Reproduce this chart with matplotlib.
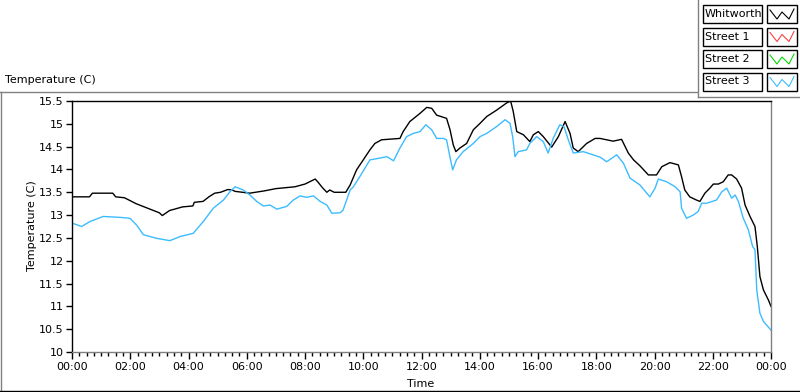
import matplotlib.pyplot as plt
from matplotlib.lines import Line2D
from matplotlib.patches import Rectangle
import numpy as np

W, H = 800, 392

# hours since midnight, temperature in C
whit_t = [0.0, 0.6, 0.7, 1.4, 1.5, 1.8, 2.2, 2.6, 3.0, 3.1, 3.35, 3.8, 4.15, 4.2, 4.5, 4.7,
          4.9, 5.1, 5.35, 5.5, 5.6, 6.1, 6.6, 7.0, 7.65, 8.0, 8.35, 8.45, 8.6, 8.75, 8.85,
          9.0, 9.4, 9.55, 9.77, 9.99, 10.23, 10.4, 10.63, 11.26, 11.37, 11.6, 11.95, 12.18,
          12.35, 12.52, 12.86, 12.98, 13.09, 13.18, 13.32, 13.55, 13.78, 14.01, 14.24, 14.58,
          14.93, 15.06, 15.15, 15.27, 15.5, 15.72, 15.84, 16.01, 16.18, 16.47, 16.7, 16.93,
          17.1, 17.21, 17.38, 17.67, 17.96, 18.13, 18.58, 18.87, 19.1, 19.28, 19.5, 19.79,
          20.07, 20.25, 20.53, 20.82, 20.93, 21.04, 21.21, 21.44, 21.56, 21.73, 21.9, 22.02,
          22.19, 22.36, 22.53, 22.65, 22.82, 22.99, 23.11, 23.28, 23.45, 23.53, 23.62, 23.74,
          23.91, 24.0]
whit_v = [13.4, 13.4, 13.48, 13.48, 13.4, 13.38, 13.25, 13.15, 13.05, 12.99, 13.1, 13.18,
          13.2, 13.28, 13.3, 13.4, 13.48, 13.5, 13.56, 13.55, 13.52, 13.48, 13.53, 13.58,
          13.62, 13.68, 13.79, 13.72, 13.6, 13.5, 13.55, 13.5, 13.5, 13.66, 13.99, 14.2,
          14.43, 14.57, 14.65, 14.68, 14.83, 15.05, 15.23, 15.36, 15.34, 15.19, 15.12, 14.87,
          14.54, 14.39, 14.47, 14.57, 14.87, 15.01, 15.16, 15.3, 15.46, 15.5, 15.27, 14.83,
          14.76, 14.61, 14.76, 14.83, 14.72, 14.49, 14.72, 15.05, 14.79, 14.47, 14.39, 14.57,
          14.68, 14.68, 14.62, 14.66, 14.36, 14.21, 14.08, 13.88, 13.88, 14.06, 14.15, 14.1,
          13.84, 13.55, 13.4, 13.33, 13.3, 13.48, 13.59, 13.68, 13.68, 13.73, 13.88, 13.88,
          13.79, 13.59, 13.22, 12.97, 12.75, 12.31, 11.65, 11.36, 11.14, 11.0]

st3_t = [0.02, 0.33, 0.62, 1.07, 1.65, 1.99, 2.22, 2.45, 2.91, 3.36, 3.71, 4.16, 4.51, 4.85,
         5.2, 5.42, 5.6, 5.88, 6.11, 6.34, 6.57, 6.8, 7.03, 7.37, 7.6, 7.83, 8.06, 8.29,
         8.52, 8.75, 8.92, 9.2, 9.3, 9.43, 9.55, 9.66, 9.89, 10.23, 10.58, 10.81, 11.04,
         11.26, 11.49, 11.72, 11.95, 12.15, 12.35, 12.52, 12.75, 12.86, 12.95, 13.07, 13.2,
         13.43, 13.78, 14.01, 14.24, 14.58, 14.87, 15.04, 15.13, 15.21, 15.32, 15.61, 15.72,
         15.95, 16.18, 16.35, 16.52, 16.75, 16.89, 17.04, 17.21, 17.56, 18.13, 18.36, 18.7,
         18.93, 19.16, 19.5, 19.84, 20.02, 20.13, 20.42, 20.71, 20.88, 20.93, 21.1, 21.33,
         21.5, 21.62, 21.79, 22.13, 22.31, 22.48, 22.65, 22.77, 22.88, 23.05, 23.22, 23.37,
         23.45, 23.51, 23.62, 23.74, 24.0]
st3_v = [12.82, 12.75, 12.86, 12.97, 12.95, 12.93, 12.78, 12.57, 12.49, 12.44, 12.53, 12.6,
         12.86, 13.15, 13.33, 13.51, 13.62, 13.55, 13.44, 13.3, 13.2, 13.22, 13.13, 13.19,
         13.33, 13.42, 13.39, 13.42, 13.3, 13.22, 13.04, 13.05, 13.1, 13.33, 13.55, 13.62,
         13.85, 14.21, 14.25, 14.28, 14.19, 14.47, 14.72, 14.79, 14.83, 14.98, 14.87, 14.68,
         14.68, 14.65, 14.36, 13.99, 14.21, 14.39, 14.57, 14.72, 14.79, 14.94, 15.09, 15.01,
         14.72, 14.28, 14.39, 14.43, 14.57, 14.72, 14.61, 14.36, 14.68, 14.98, 14.94, 14.65,
         14.36, 14.39, 14.27, 14.17, 14.32, 14.14, 13.81, 13.66, 13.4, 13.59, 13.79, 13.73,
         13.62, 13.51, 13.15, 12.93, 13.0, 13.08, 13.26, 13.26, 13.33, 13.51, 13.59, 13.37,
         13.44, 13.3, 12.93, 12.68, 12.31, 12.24, 11.36, 10.85, 10.67, 10.48]

names = ['Whitworth', 'Street 1', 'Street 2', 'Street 3']
colors = ['black', '#ff4040', '#00dd00', '#3cbcff']

y_ticks = np.arange(10, 15.51, 0.5)
x_major = np.arange(0, 24.01, 2)
x_labels = ['%02d:00' % (h % 24) for h in x_major]


def fx(px):
    return px / W


def fy(py):
    return 1 - py / H


fig = plt.figure(figsize=(W / 100, H / 100), dpi=100)
ax = fig.add_axes([fx(72), fy(352), fx(771) - fx(72), fy(101) - fy(352)])

ax.plot(whit_t, whit_v, color=colors[0], lw=1)
ax.plot([], [], color=colors[1], lw=1)
ax.plot([], [], color=colors[2], lw=1)
ax.plot(st3_t, st3_v, color=colors[3], lw=1)

ax.set_xlim(0, 24)
ax.set_ylim(10, 15.5)
ax.set_yticks(y_ticks)
ax.set_yticklabels(['%g' % v for v in y_ticks])
ax.set_xticks(x_major)
ax.set_xticklabels(x_labels)
ax.set_xticks(np.arange(0, 24.01, 0.25), minor=True)
ax.tick_params(axis='both', which='major', direction='out', length=4, width=1,
               labelsize=8, pad=2, color='black')
ax.tick_params(axis='x', which='major', length=5)
ax.tick_params(axis='x', which='minor', direction='out', length=3, width=1, color='black')

ax.spines['left'].set_color('black')
ax.spines['top'].set_color('black')
ax.spines['right'].set_color('#808080')
ax.spines['bottom'].set_color('#808080')
for s in ax.spines.values():
    s.set_linewidth(1)

fig.text(fx(421), fy(384), 'Time', ha='center', va='center', fontsize=8)
fig.text(fx(32), fy(226), 'Temperature (C)', ha='center', va='center', fontsize=8,
         rotation=90)
fig.text(fx(5), fy(80), 'Temperature (C)', ha='left', va='center', fontsize=8)

# panel frame
fig.add_artist(Line2D([fx(0), fx(697)], [fy(92), fy(92)], color='#808080', lw=1))
fig.add_artist(Line2D([fx(0.5), fx(0.5)], [fy(92), fy(391)], color='#808080', lw=1))
fig.add_artist(Line2D([fx(0), fx(800)], [fy(391), fy(391)], color='black', lw=1))
fig.add_artist(Line2D([fx(698), fx(698)], [fy(0), fy(97)], color='#808080', lw=1))
fig.add_artist(Line2D([fx(698), fx(800)], [fy(97), fy(97)], color='#808080', lw=1))

# legend
for i, (name, c) in enumerate(zip(names, colors)):
    top = 5 + i * 22.5
    fig.add_artist(Rectangle((fx(703), fy(top + 18)), fx(762) - fx(703), fy(top) - fy(top + 18),
                             transform=fig.transFigure, fill=False, ec='black', lw=1))
    fig.add_artist(Rectangle((fx(767), fy(top + 18)), fx(797) - fx(767), fy(top) - fy(top + 18),
                             transform=fig.transFigure, fill=False, ec='black', lw=1))
    zx = [770, 777, 782, 789, 794]
    zy = [top + 5, top + 14, top + 7, top + 14, top + 4]
    fig.add_artist(Line2D([fx(v) for v in zx], [fy(v) for v in zy], color=c, lw=0.8))
    fig.text(fx(705), fy(top + 9), name, ha='left', va='center', fontsize=8)

fig.savefig('out.png', dpi=100)
